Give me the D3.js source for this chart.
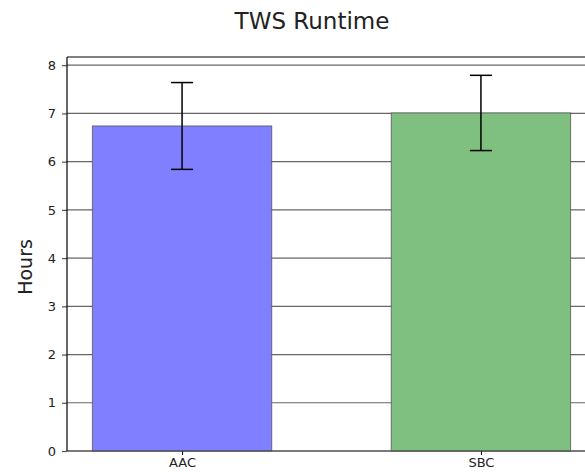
<!DOCTYPE html>
<html>
<head>
<meta charset="utf-8">
<script src="https://cdn.jsdelivr.net/npm/d3@7"></script>
<style>
  body { margin: 0; background: #fff; }
  text { font-family: "DejaVu Sans", sans-serif; fill: #222; }
</style>
</head>
<body>
<div id="chart"></div>
<script>
const categories = ['AAC', 'SBC'];
const hours = [6.74, 7.01];
const errors = [0.9, 0.78];
const yTicks = [0, 1, 2, 3, 4, 5, 6, 7, 8];
const barColors = ['#7f7fff', '#7fbf7f'];

const W = 585, H = 474;
const margin = { top: 57, left: 67, bottom: 23 };

const svg = d3.select('#chart').append('svg')
  .attr('width', W)
  .attr('height', H);

// plot runs off the right edge in the original
const x = d3.scaleLinear().domain([-0.385, 1.385]).range([margin.left, 596]);
const y = d3.scaleLinear().domain([0, 8.17]).range([H - margin.bottom, margin.top]);
const barW = x(0.6) - x(0);

// grid lines
svg.append('g')
  .selectAll('line')
  .data(yTicks)
  .join('line')
  .attr('x1', margin.left)
  .attr('x2', W)
  .attr('y1', (d) => y(d))
  .attr('y2', (d) => y(d))
  .attr('stroke', '#666')
  .attr('stroke-width', 1.2);

// bars
svg.append('g')
  .selectAll('rect')
  .data(categories)
  .join('rect')
  .attr('x', (d, i) => x(i) - barW / 2)
  .attr('y', (d, i) => y(hours[i]))
  .attr('width', barW)
  .attr('height', (d, i) => y(0) - y(hours[i]))
  .attr('fill', (d, i) => barColors[i])
  .attr('stroke', '#555')
  .attr('stroke-opacity', 0.8)
  .attr('stroke-width', 1);

// error bars
const err = svg.append('g')
  .selectAll('g')
  .data(categories)
  .join('g')
  .attr('stroke', '#000')
  .attr('stroke-width', 1.5);
err.append('line')
  .attr('x1', (d, i) => x(i)).attr('x2', (d, i) => x(i))
  .attr('y1', (d, i) => y(hours[i] - errors[i]))
  .attr('y2', (d, i) => y(hours[i] + errors[i]));
[-1, 1].forEach((s) => {
  err.append('line')
    .attr('x1', (d, i) => x(i) - 11).attr('x2', (d, i) => x(i) + 11)
    .attr('y1', (d, i) => y(hours[i] + s * errors[i]))
    .attr('y2', (d, i) => y(hours[i] + s * errors[i]));
});

// axes
const yAxis = svg.append('g')
  .attr('transform', `translate(${margin.left},0)`)
  .call(d3.axisLeft(y).tickValues(yTicks).tickSize(5).tickPadding(6).tickFormat(d3.format('d')));
yAxis.select('.domain').remove();
yAxis.selectAll('.tick line').attr('stroke', '#555').attr('stroke-width', 1.2);
yAxis.selectAll('.tick text').style('font-size', '13px');

const xAxis = svg.append('g')
  .attr('transform', `translate(0,${y(0)})`)
  .call(d3.axisBottom(x).tickValues([0, 1]).tickSize(4).tickPadding(3)
    .tickFormat((d) => categories[d]));
xAxis.select('.domain').remove();
xAxis.selectAll('.tick line').attr('stroke', '#000');
xAxis.selectAll('.tick text').style('font-size', '13px');

// spines
svg.append('line')
  .attr('x1', margin.left).attr('x2', margin.left)
  .attr('y1', margin.top).attr('y2', y(0))
  .attr('stroke', '#000').attr('stroke-width', 1.2);
svg.append('line')
  .attr('x1', margin.left).attr('x2', W)
  .attr('y1', margin.top).attr('y2', margin.top)
  .attr('stroke', '#000').attr('stroke-width', 1.2);
svg.append('line')
  .attr('x1', margin.left).attr('x2', W)
  .attr('y1', y(0)).attr('y2', y(0))
  .attr('stroke', '#444').attr('stroke-width', 1.2);

// title and label
svg.append('text')
  .attr('x', 312).attr('y', 29)
  .attr('text-anchor', 'middle')
  .style('font-size', '23px')
  .text('TWS Runtime');

svg.append('text')
  .attr('transform', 'translate(32,267) rotate(-90)')
  .attr('text-anchor', 'middle')
  .style('font-size', '19px')
  .text('Hours');
</script>
</body>
</html>
